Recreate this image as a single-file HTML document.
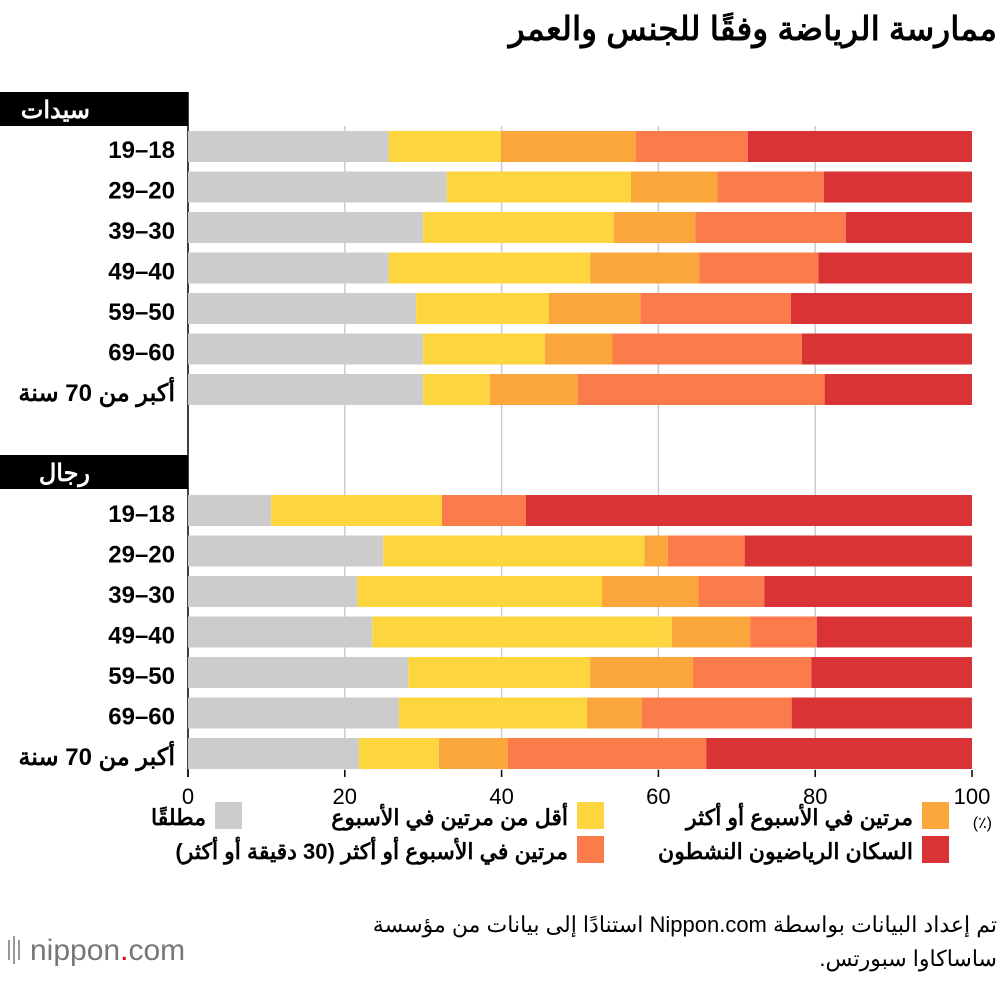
<!DOCTYPE html>
<html><head><meta charset="utf-8"><style>
body{margin:0;width:1000px;height:978px;background:#fff;font-family:"Liberation Sans","Noto Sans CJK SC",sans-serif;overflow:hidden}
svg text{font-family:"Liberation Sans","Noto Sans CJK SC",sans-serif}
</style></head><body>
<svg width="1000" height="978">
<text x="997" y="40" text-anchor="start" font-size="33" font-weight="bold" direction="rtl">ممارسة الرياضة وفقًا للجنس والعمر</text>
<g id="grid"></g>
<g id="bars"></g>
<g id="labels"></g>
<g id="legend"></g>
<text x="997" y="932" text-anchor="start" font-size="22" direction="rtl">تم إعداد البيانات بواسطة Nippon.com استنادًا إلى بيانات من مؤسسة</text>
<text x="997" y="966" text-anchor="start" font-size="22" direction="rtl">ساساكاوا سبورتس.</text>
<g>
<rect x="8" y="940" width="2" height="20" fill="#999"/><rect x="13" y="936" width="2" height="28" fill="#999"/><rect x="18" y="940" width="2" height="20" fill="#999"/>
<text x="30" y="960" font-size="30" fill="#777">nippon<tspan fill="#e00">.</tspan>com</text>
</g>
</svg>
<script>
const categories=["19–18","29–20","39–30","49–40","59–50","69–60","أكبر من 70 سنة"];
const groups=["سيدات","رجال"];
const seriesNames=["مطلقًا","أقل من مرتين في الأسبوع","مرتين في الأسبوع أو أكثر","مرتين في الأسبوع أو أكثر (30 دقيقة أو أكثر)","السكان الرياضيون النشطون"];
const colors=["#cccccc","#fdd63f","#fba63a","#fc7b4a","#d93336"];
const womenNever=[25.6,33.0,30.0,25.6,29.1,30.0,30.0];
const womenLess=[14.3,23.5,24.3,25.7,16.9,15.5,8.5];
const womenTwice=[17.2,11.0,10.4,13.9,11.7,8.6,11.2];
const womenTwice30=[14.3,13.6,19.2,15.2,19.2,24.2,31.5];
const womenActive=[28.6,18.9,16.1,19.6,23.1,21.7,18.8];
const menNever=[10.6,24.9,21.6,23.5,28.1,26.9,21.8];
const menLess=[21.8,33.3,31.2,38.2,23.2,24.0,10.2];
const menTwice=[0,3.0,12.3,10.0,13.1,7.0,8.8];
const menTwice30=[10.7,9.8,8.4,8.5,15.1,19.1,25.3];
const menActive=[56.9,29.0,26.5,19.8,20.5,23.0,33.9];
const ticks=[0,20,40,60,80,100];

const NS="http://www.w3.org/2000/svg";
const X0=188,X1=972;
const xs=v=>X0+(X1-X0)*v/100;
function mk(tag,attrs,parent){const e=document.createElementNS(NS,tag);for(const k in attrs)e.setAttribute(k,attrs[k]);parent.appendChild(e);return e;}
const grid=document.getElementById('grid'),bars=document.getElementById('bars'),labels=document.getElementById('labels'),legend=document.getElementById('legend');
ticks.forEach(t=>{
 if(t>0&&t<100){const l=mk('line',{x1:xs(t),x2:xs(t),y1:126,y2:776,stroke:'#ccc','stroke-width':1.5},grid);
 
 }
 const tk=mk('line',{x1:xs(t),x2:xs(t),y1:770,y2:777,stroke:'#000','stroke-width':1.5},grid);
 
 
 const tx=mk('text',{x:xs(t),y:804,'text-anchor':'middle','font-size':22},labels);tx.textContent=t;
 
 
});
const pu=mk('text',{x:992,y:828,'text-anchor':'end','font-size':16},labels);pu.textContent='(٪)';


const ax=mk('line',{x1:X0,x2:X0,y1:92,y2:777,stroke:'#000','stroke-width':1.5},grid);


const data=[[womenNever,womenLess,womenTwice,womenTwice30,womenActive],[menNever,menLess,menTwice,menTwice30,menActive]];
const groupTop=[92,455],rowStart=[131,495],pitch=40.5,bh=31;
groups.forEach((g,gi)=>{
 const hb=mk('rect',{x:0,y:groupTop[gi],width:X0,height:34,fill:'#000'},labels);
 
 
 const ht=mk('text',{x:90,y:groupTop[gi]+26,'text-anchor':'start','font-size':24,'font-weight':'bold',fill:'#fff',direction:'rtl'},labels);ht.textContent=g;
 
 
 categories.forEach((c,ci)=>{
  const y=rowStart[gi]+ci*pitch;
  let acc=0;
  data[gi].forEach((s,si)=>{
   const v=s[ci];
   const r=mk('rect',{x:xs(acc),y:y,width:xs(acc+v)-xs(acc),height:bh,fill:colors[si]},bars);
   
   
   acc+=v;
  });
  const rtl=ci==6;
  const t=mk('text',{x:175,y:y+27,'text-anchor':rtl?'start':'end','font-size':24,'font-weight':'bold',direction:rtl?'rtl':'ltr'},labels);t.textContent=c;
  
  
 });
});
const leg=[[2,922,802],[4,922,836],[1,577,802],[3,577,836],[0,215,802]];
leg.forEach(([si,x,y])=>{
 const r=mk('rect',{x:x,y:y,width:27,height:27,fill:colors[si]},legend);
 
 
 const t=mk('text',{x:x-9,y:y+23,'text-anchor':'start','font-size':22,'font-weight':'bold',direction:'rtl'},legend);t.textContent=seriesNames[si];
 
 
});
</script>
</body></html>
